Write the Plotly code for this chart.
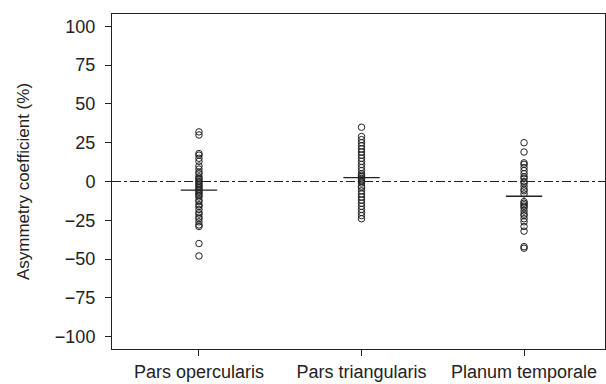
import plotly.graph_objects as go

categories = ["Pars opercularis", "Pars triangularis", "Planum temporale"]

pars_opercularis = [32, 30, 18, 17, 15, 13, 10, 8, 6, 5, 3, 2, 1, 0, -1, -2, -3, -4,
                    -5, -6, -7, -8, -9, -10, -12, -13, -15, -16, -18, -20, -21, -23,
                    -24, -26, -28, -29, -40, -48]
pars_triangularis = [35, 29, 27, 25, 23, 21, 19, 17, 15, 13, 11, 9, 7, 5, 4, 3, 2, 1,
                     0, -1, -3, -4, -6, -8, -10, -12, -14, -16, -18, -20, -22, -24]
planum_temporale = [25, 19, 12, 11, 9, 7, 5, 3, 2, 0, -1, -3, -5, -6, -8, -13, -14,
                    -15, -16, -17, -19, -21, -22, -24, -26, -29, -32, -42, -43]
means = [-5.5, 2.5, -9.5]

y_ticks = [-100, -75, -50, -25, 0, 25, 50, 75, 100]

series = [pars_opercularis, pars_triangularis, planum_temporale]

fig = go.Figure()
for i, vals in enumerate(series):
    fig.add_trace(go.Scatter(
        x=[i] * len(vals), y=vals, mode="markers",
        marker=dict(symbol="circle-open", size=6.5, color="#222222", line=dict(width=1)),
        showlegend=False, hoverinfo="y"))

fig.add_trace(go.Scatter(
    x=list(range(len(categories))), y=means, mode="markers",
    marker=dict(symbol="line-ew", size=26, line=dict(width=1.3, color="#222222")),
    showlegend=False))

fig.add_shape(type="line", xref="paper", x0=0, x1=1, yref="y", y0=0, y1=0,
              line=dict(color="#222222", width=1, dash="dashdot"))

font = "Liberation Sans, Arial, sans-serif"
fig.update_layout(
    width=606, height=384,
    margin=dict(l=112, r=1, t=14, b=35, autoexpand=False),
    paper_bgcolor="white", plot_bgcolor="white",
    font=dict(family=font, color="#222222"),
    xaxis=dict(range=[-0.535, 2.498], tickvals=[0, 1, 2], ticktext=categories,
               showgrid=False, zeroline=False, showline=True, linecolor="#222222",
               linewidth=1, mirror=True, ticks="outside", ticklen=6, tickcolor="#222222",
               tickfont=dict(size=18), automargin=False),
    yaxis=dict(range=[-108, 108], tickvals=y_ticks, showgrid=False, zeroline=False,
               showline=True, linecolor="#222222", linewidth=1, mirror=True,
               ticks="outside", ticklen=6, tickcolor="#222222", tickfont=dict(size=18),
               ticklabelstandoff=6, automargin=False,
               title=dict(text="Asymmetry coefficient (%)", font=dict(size=17), standoff=20)),
)

fig.write_html("out.html", config={"displayModeBar": False},
               post_script="document.body.style.margin='0';document.body.style.padding='0';")
